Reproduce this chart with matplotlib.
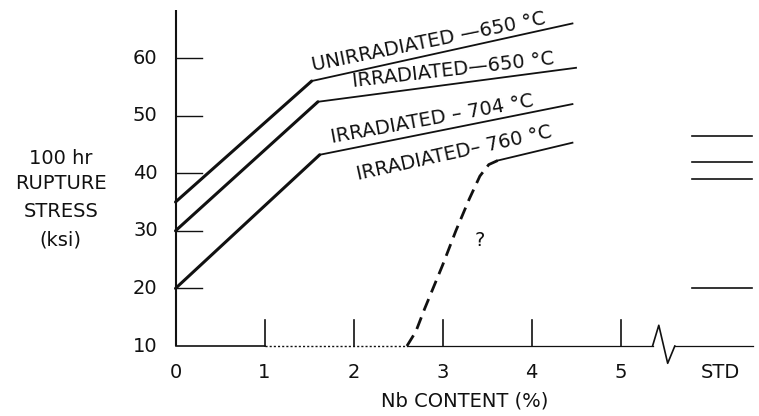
import matplotlib.pyplot as plt
import numpy as np

# Data (Nb content in %, stress in ksi)
unirr_650_x = [0, 1.53, 4.46]
unirr_650_y = [35, 56, 66]
irr_650_x = [0, 1.6, 4.5]
irr_650_y = [30, 52.4, 58.3]
irr_704_x = [0, 1.62, 4.46]
irr_704_y = [20, 43.2, 52]
# 760 C: uncertain dashed rise, then solid
irr_760_dash_x = [2.6, 2.7, 2.8, 3.0, 3.15, 3.3, 3.42, 3.52, 3.62]
irr_760_dash_y = [10, 12.5, 16.5, 24, 30, 35.5, 39.5, 41.5, 42.2]
irr_760_x = [3.62, 4.46]
irr_760_y = [42.2, 45.3]
# standard alloy values
std_values = [46.5, 42, 39, 20]

x_ticks = [0, 1, 2, 3, 4, 5]
y_ticks = [10, 20, 30, 40, 50, 60]
labels = ["UNIRRADIATED \u2014650 \u00b0C", "IRRADIATED\u2014650 \u00b0C",
          "IRRADIATED \u2013 704 \u00b0C", "IRRADIATED\u2013 760 \u00b0C"]

ink = '#111111'
fs = 14

fig = plt.figure(figsize=(7.59, 4.16), dpi=100)
ax = fig.add_axes([0, 0, 1, 1])
ax.set_xlim(-1.972, 6.556)
ax.set_ylim(-2.15, 70.07)
ax.axis('off')

# y axis and ticks
ax.plot([0, 0], [10, 68.3], color=ink, lw=1.5, solid_capstyle='butt')
for v in y_ticks[1:]:
    ax.plot([0, 0.3], [v, v], color=ink, lw=1.0)
for v in y_ticks:
    ax.text(-0.2, v, str(v), ha='right', va='center', fontsize=fs, color=ink)

# x axis (broken before STD)
ax.plot([0, 1], [10, 10], color=ink, lw=1.2)
ax.plot([1, 2.6], [10, 10], color=ink, lw=1.0, ls=(0, (1.5, 1.5)))
ax.plot([2.6, 5.36], [10, 10], color=ink, lw=0.9)
ax.plot([5.36, 5.43, 5.53, 5.61], [10, 13.6, 7.0, 10], color=ink, lw=1.2)
ax.plot([5.61, 6.49], [10, 10], color=ink, lw=0.9)
for v in x_ticks[1:]:
    ax.plot([v, v], [10, 14.5], color=ink, lw=1.2)
for v in x_ticks:
    ax.text(v, 5.4, str(v), ha='center', va='center', fontsize=fs, color=ink)
ax.text(6.12, 5.4, 'STD', ha='center', va='center', fontsize=fs, color=ink)

ax.text(3.25, 0.4, 'Nb CONTENT (%)', ha='center', va='center', fontsize=fs, color=ink)
for txt, yy in zip(['100 hr', 'RUPTURE', 'STRESS', '(ksi)'], [42.6, 38.2, 33.3, 28.4]):
    ax.text(-1.29, yy, txt, ha='center', va='center', fontsize=fs, color=ink)

# curves: thick rising part, thinner plateau
for xs, ys in [(unirr_650_x, unirr_650_y), (irr_650_x, irr_650_y), (irr_704_x, irr_704_y)]:
    ax.plot(xs[:2], ys[:2], color=ink, lw=2.2, solid_capstyle='round')
    ax.plot(xs[1:], ys[1:], color=ink, lw=1.3)
ax.plot(irr_760_dash_x, irr_760_dash_y, color=ink, lw=2.0, ls=(0, (4.5, 2.6)))
ax.plot(irr_760_x, irr_760_y, color=ink, lw=1.3)
ax.text(3.42, 28.3, '?', ha='center', va='center', fontsize=fs, color=ink)

for v in std_values:
    ax.plot([5.8, 6.48], [v, v], color=ink, lw=1.2)


def seg_angle(xs, ys):
    p = ax.transData.transform([(xs[0], ys[0]), (xs[1], ys[1])])
    return np.degrees(np.arctan2(p[1, 1] - p[0, 1], p[1, 0] - p[0, 0]))


# curve labels sitting just above the plateau segments
label_specs = [(unirr_650_x[1:], unirr_650_y[1:], 1.55, 1.6),
               (irr_650_x[1:], irr_650_y[1:], 1.99, 1.7),
               (irr_704_x[1:], irr_704_y[1:], 1.76, 1.6),
               (irr_760_x, irr_760_y, 2.05, 2.4)]
for txt, (xs, ys, x0, off) in zip(labels, label_specs):
    slope = (ys[1] - ys[0]) / (xs[1] - xs[0])
    y0 = ys[0] + slope * (x0 - xs[0])
    ang = seg_angle(xs, ys) - 1.0
    ax.text(x0, y0 + off, txt, ha='left', va='baseline', rotation=ang,
            rotation_mode='anchor', fontsize=fs, color=ink)

fig.savefig('out.png', dpi=100)
